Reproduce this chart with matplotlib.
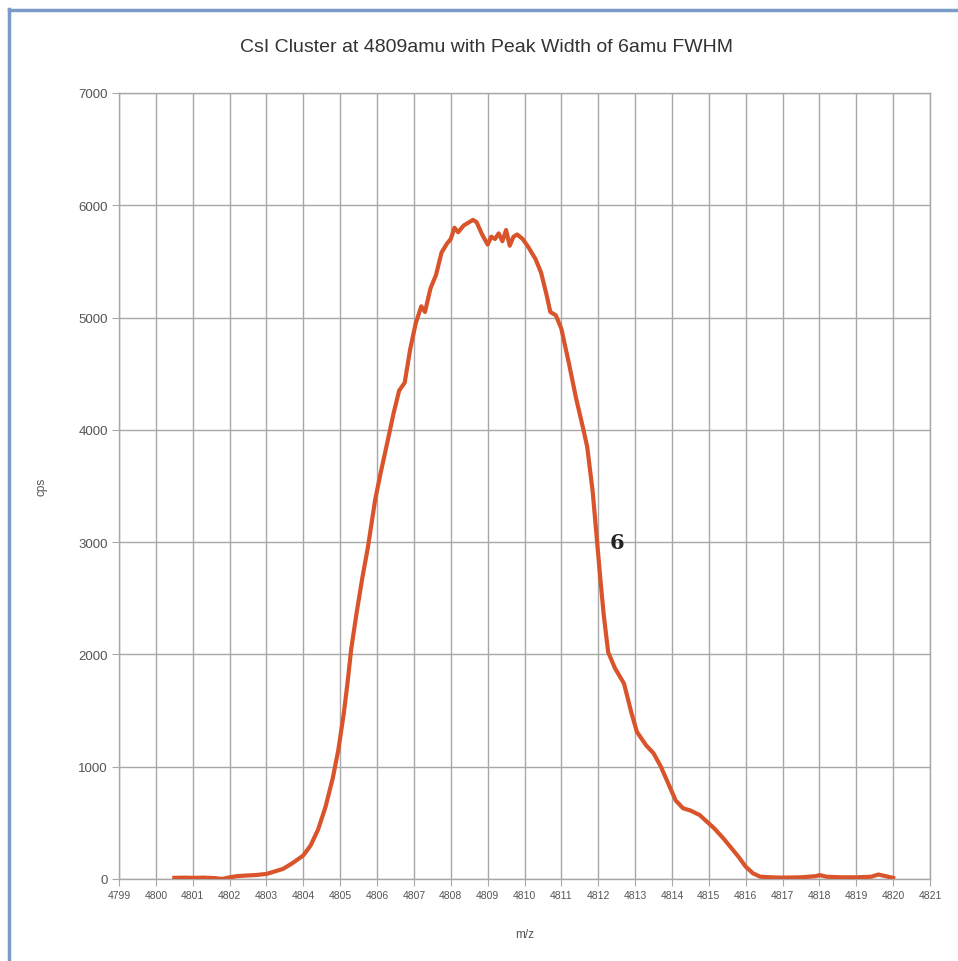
import numpy as np
import matplotlib.pyplot as plt
from matplotlib.lines import Line2D

# valeurs
mz = [4800.5, 4800.8, 4801.0, 4801.3, 4801.6, 4801.8, 4802.0, 4802.2, 4802.4, 4802.7,
      4803.0, 4803.2, 4803.45, 4803.7, 4804.0, 4804.2, 4804.4, 4804.6, 4804.8, 4804.95,
      4805.1, 4805.2, 4805.3, 4805.45, 4805.6, 4805.75, 4805.95, 4806.1, 4806.3, 4806.45,
      4806.6, 4806.75, 4806.9, 4807.05, 4807.2, 4807.3, 4807.45, 4807.6, 4807.75, 4807.9,
      4808.0, 4808.1, 4808.2, 4808.35, 4808.5, 4808.6, 4808.7, 4808.85, 4809.0, 4809.1,
      4809.2, 4809.3, 4809.4, 4809.5, 4809.6, 4809.7, 4809.8, 4809.95, 4810.1, 4810.3,
      4810.45, 4810.6, 4810.7, 4810.85, 4811.0, 4811.2, 4811.4, 4811.6, 4811.7, 4811.85,
      4811.97, 4812.05, 4812.15, 4812.27, 4812.45, 4812.7, 4812.9, 4813.05, 4813.3, 4813.5,
      4813.7, 4813.9, 4814.1, 4814.3, 4814.5, 4814.75, 4814.95, 4815.15, 4815.4, 4815.6,
      4815.8, 4816.0, 4816.2, 4816.4, 4816.7, 4817.0, 4817.5, 4817.9, 4818.0, 4818.2,
      4818.6, 4819.0, 4819.4, 4819.6, 4819.8, 4820.0]
cps = [10, 12, 10, 12, 8, 0, 15, 25, 30, 35,
       45, 65, 90, 140, 210, 300, 440, 640, 900, 1150,
       1480, 1750, 2050, 2380, 2680, 2950, 3380, 3620, 3920, 4150,
       4350, 4420, 4720, 4950, 5100, 5050, 5260, 5380, 5580, 5660,
       5700, 5800, 5760, 5820, 5850, 5870, 5850, 5740, 5650, 5720,
       5700, 5750, 5680, 5780, 5640, 5720, 5740, 5700, 5630, 5520,
       5400, 5200, 5050, 5020, 4900, 4600, 4280, 4000, 3850, 3450,
       3000, 2700, 2350, 2020, 1880, 1740, 1480, 1310, 1190, 1120,
       1000, 850, 700, 630, 610, 570, 510, 450, 360, 280,
       200, 110, 50, 20, 15, 12, 15, 25, 35, 20,
       15, 15, 20, 40, 25, 10]

x_ticks = list(range(4799, 4822))
y_ticks = list(range(0, 7001, 1000))

titre = "CsI Cluster at 4809amu with Peak Width of 6amu FWHM"
annot_txt = "6"
annot_pos = (4812.3, 3000)

plt.rcParams['font.family'] = ['Liberation Sans', 'DejaVu Sans']
gris = '#a8a8a8'

fig = plt.figure(figsize=(9.58, 9.62), dpi=100)
ax = fig.add_axes([119 / 958, 82 / 962, 811 / 958, 786 / 962])

# courbe
ax.plot(mz, cps, color='#d9542b', lw=3.0, solid_joinstyle='round', zorder=3)

ax.set_xlim(4799, 4821)
ax.set_ylim(0, 7000)
ax.set_xticks(x_ticks)
ax.set_yticks(y_ticks)
ax.grid(True, color=gris, lw=1.0)
ax.set_axisbelow(True)
for s in ax.spines.values():
    s.set_color(gris)
    s.set_linewidth(1.0)
ax.tick_params(axis='x', direction='out', length=5, color=gris,
               labelsize=7.5, labelcolor='#555555', pad=3)
ax.tick_params(axis='y', direction='out', length=5, color=gris,
               labelsize=9.5, labelcolor='#555555', pad=3)

fig.text(486 / 958, 1 - 47 / 962, titre, fontsize=14, color='#333333',
         ha='center', va='center')
ax.set_xlabel('m/z', fontsize=8.5, color='#555555', labelpad=20)
ax.set_ylabel('cps', fontsize=8.5, color='#555555', labelpad=22)

ax.text(annot_pos[0], annot_pos[1], annot_txt, family='DejaVu Serif',
        fontweight='bold', fontsize=15, color='#222222', va='center', ha='left')

# bordure bleue de la fenêtre
fig.add_artist(Line2D([9 / 958, 9 / 958], [0, 1 - 10 / 962], transform=fig.transFigure,
                      color='#7b9cc9', lw=2.5))
fig.add_artist(Line2D([9 / 958, 1], [1 - 11 / 962, 1 - 11 / 962], transform=fig.transFigure,
                      color='#7b9cc9', lw=2.5))

fig.savefig('out.png', dpi=100)
